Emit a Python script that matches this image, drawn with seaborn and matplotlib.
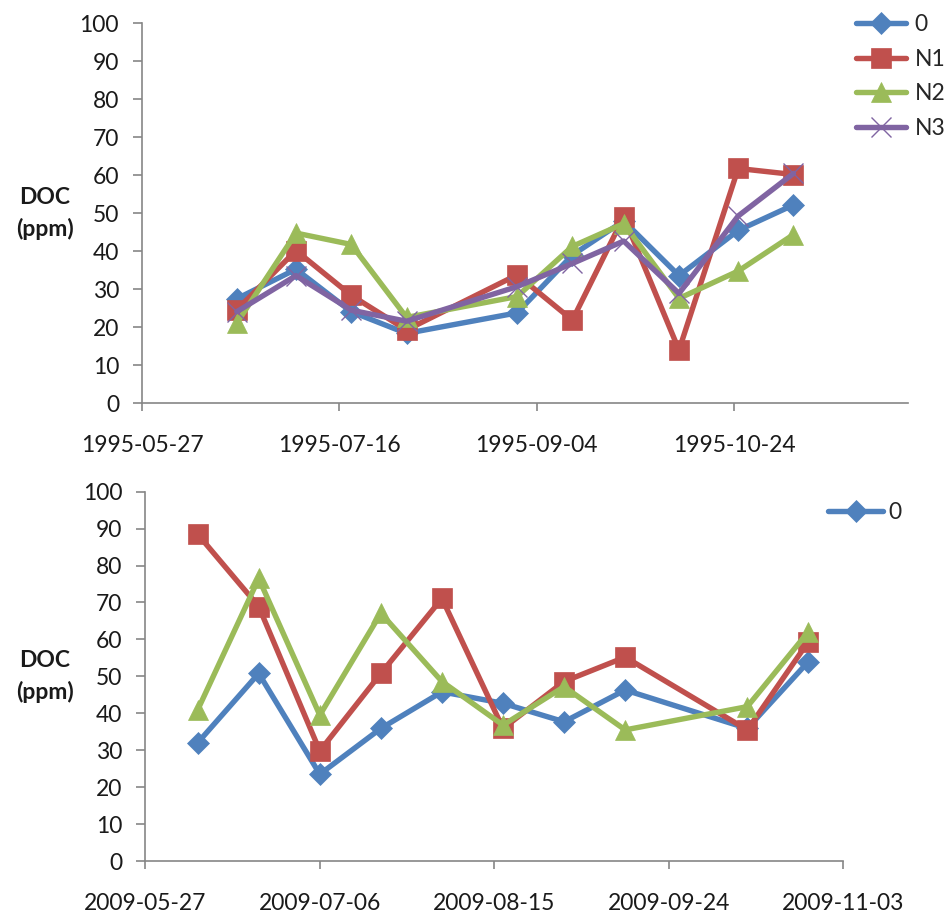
import matplotlib
matplotlib.use("Agg")
import matplotlib.pyplot as plt
import seaborn as sns
import pandas as pd

# ---------------- data ----------------
top_dates = ["1995-06-20", "1995-07-05", "1995-07-19", "1995-08-02", "1995-08-30",
             "1995-09-13", "1995-09-26", "1995-10-10", "1995-10-25", "1995-11-08"]
top_0 = [27.5, 35.3, 24.1, 18.4, 23.8, 39.0, 48.0, 33.6, 45.5, 52.2]
top_N1 = [24.6, 40.2, 28.4, 19.3, 33.8, 21.9, 49.1, 14.0, 61.8, 60.2]
top_N2 = [21.1, 44.8, 41.8, 22.6, 28.1, 41.3, 47.3, 27.6, 34.8, 44.4]
top_N3 = [24.1, 33.6, 24.5, 21.6, 30.7, 36.8, 42.7, 28.9, 49.3, 60.5]
top_xticks = ["1995-05-27", "1995-07-16", "1995-09-04", "1995-10-24"]
top_xlim = ["1995-05-27", "1995-12-07"]

bot_dates = ["2009-06-08", "2009-06-22", "2009-07-06", "2009-07-20", "2009-08-03",
             "2009-08-17", "2009-08-31", "2009-09-14", "2009-10-12", "2009-10-26"]
bot_0 = [32.0, 50.8, 23.5, 35.9, 45.8, 42.7, 37.7, 46.3, 35.9, 54.0]
bot_N1 = [88.5, 68.9, 29.8, 50.8, 71.1, 35.9, 48.6, 55.2, 35.5, 59.4]
bot_N2 = [40.9, 76.5, 39.5, 67.1, 48.6, 36.8, 47.2, 35.5, 41.8, 62.1]
bot_xticks = ["2009-05-27", "2009-07-06", "2009-08-15", "2009-09-24", "2009-11-03"]
bot_xlim = ["2009-05-27", "2009-11-03"]

series_names = ["0", "N1", "N2", "N3"]
yticks = [0, 10, 20, 30, 40, 50, 60, 70, 80, 90, 100]
ylabel = "DOC\n(ppm)"

# ---------------- style ----------------
sns.set_style("white")
plt.rcParams["font.family"] = ["Lato", "DejaVu Sans"]

colors = {"0": "#4F81BD", "N1": "#C0504D", "N2": "#9BBB59", "N3": "#8064A2"}
markers = {"0": "D", "N1": "s", "N2": "^", "N3": "x"}
msizes = {"0": 11, "N1": 14, "N2": 14.5, "N3": 14}
FS = 16.5
GRAY = "#868686"
TXT = "#1a1a1a"

fig = plt.figure(figsize=(9.49, 9.16), dpi=100)
ax1 = fig.add_axes([142 / 949, (916 - 403.3) / 916, (908 - 142) / 949, (403.3 - 23.3) / 916])
ax2 = fig.add_axes([145.3 / 949, (916 - 861) / 916, (843.3 - 145.3) / 949, (861 - 491.7) / 916])


def draw(ax, dates, data, names):
    x = pd.to_datetime(dates)
    for name, vals in zip(names, data):
        sns.lineplot(x=x, y=vals, ax=ax, color=colors[name], linewidth=3.9,
                     marker=markers[name], markersize=msizes[name],
                     markeredgecolor=colors[name],
                     markeredgewidth=1 if name == "N3" else 0.5,
                     markerfacecolor=colors[name], label=name, sort=False)


def style(ax, ticks, xlim, labx):
    ax.set_ylim(0, 100)
    ax.set_yticks(yticks)
    ax.set_xlim(pd.to_datetime(xlim[0]), pd.to_datetime(xlim[1]))
    ax.set_xticks(pd.to_datetime(ticks))
    ax.set_xticklabels(ticks)
    for s in ["top", "right"]:
        ax.spines[s].set_visible(False)
    for s in ["left", "bottom"]:
        ax.spines[s].set_color(GRAY)
        ax.spines[s].set_linewidth(1.2)
    ax.tick_params(axis="y", direction="out", length=6.5, width=1.2, color=GRAY,
                   labelsize=FS, labelcolor=TXT, pad=10, left=True)
    ax.tick_params(axis="x", direction="out", length=6, width=1.2, color=GRAY,
                   labelsize=FS, labelcolor=TXT, pad=17, bottom=True)
    ax.set_xlabel("")
    ax.set_ylabel(ylabel, rotation=0, fontsize=16.5, fontweight="bold",
                  color=TXT, ha="center", va="center", linespacing=1.55)
    ax.yaxis.set_label_coords(labx, 0.5)
    ax.grid(False)


draw(ax1, top_dates, [top_0, top_N1, top_N2, top_N3], series_names)
draw(ax2, bot_dates, [bot_0, bot_N1, bot_N2], series_names[:3])
style(ax1, top_xticks, top_xlim, (45 - 142) / 766)
style(ax2, bot_xticks, bot_xlim, (45 - 145.3) / 698)

h1, l1 = ax1.get_legend_handles_labels()
if ax1.legend_:
    ax1.legend_.remove()
fig.legend(h1, l1, loc="upper left", bbox_to_anchor=(856 / 949, 1 - 14 / 916),
           frameon=False, fontsize=FS, handlelength=2.2, handletextpad=0.35,
           labelspacing=0.6, borderpad=0, borderaxespad=0)

h2, l2 = ax2.get_legend_handles_labels()
if ax2.legend_:
    ax2.legend_.remove()
fig.legend(h2[:1], l2[:1], loc="upper left", bbox_to_anchor=(828 / 949, 1 - 502 / 916),
           frameon=False, fontsize=FS, handlelength=2.4, handletextpad=0.25,
           borderpad=0, borderaxespad=0)

fig.savefig("out.png", dpi=100, facecolor="white")
